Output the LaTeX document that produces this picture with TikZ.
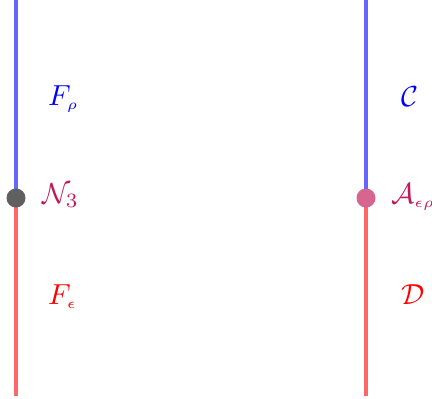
\documentclass[tikz,border=0pt]{standalone}
\usepackage{amsmath}
\usepackage{graphicx}
\definecolor{lblue}{HTML}{6666FF}
\definecolor{lred}{HTML}{FF6666}
\definecolor{dgray}{HTML}{606060}
\definecolor{dpink}{HTML}{D66590}
\definecolor{tpurple}{HTML}{C2185B}
\newcommand{\bigtxt}[1]{\scalebox{2.9}{#1}}
\begin{document}
\begin{tikzpicture}[x=1pt,y=-1pt,
  seg/.style={line width=3.8pt},
  lbl/.style={inner sep=0pt, anchor=base west},
  dot/.style={circle, inner sep=0pt, minimum size=19pt}]
\useasboundingbox (0,0) rectangle (432,399);
\coordinate (lt) at (16,0);
\coordinate (lb) at (16,396);
\coordinate (rt) at (366,0);
\coordinate (rb) at (366,396);
\node[dot] (n3) at (16,198) {};
\node[dot] (aer) at (366,198) {};
\draw[seg, lblue] (lt) -- (n3.center);
\draw[seg, lred] (n3.center) -- (lb);
\draw[seg, lblue] (rt) -- (aer.center);
\draw[seg, lred] (aer.center) -- (rb);
\fill[dgray] (n3) circle (9.5pt);
\fill[dpink] (aer) circle (9.5pt);
\node[lbl, blue] (frho) at (48,105) {\bigtxt{$F_{\scriptscriptstyle\rho}$}};
\node[lbl, tpurple] (nthree) at (42,203) {\bigtxt{$\mathcal{N}_{3}$}};
\node[lbl, red] (feps) at (48,304) {\bigtxt{$F_{\scriptscriptstyle\epsilon}$}};
\node[lbl, blue] (cc) at (401,106) {\bigtxt{$\mathcal{C}$}};
\node[lbl, tpurple] (aa) at (391,203) {\bigtxt{$\mathcal{A}_{\scriptscriptstyle\epsilon\rho}$}};
\node[lbl, red] (dd) at (401,304) {\bigtxt{$\mathcal{D}$}};
\end{tikzpicture}
\end{document}
